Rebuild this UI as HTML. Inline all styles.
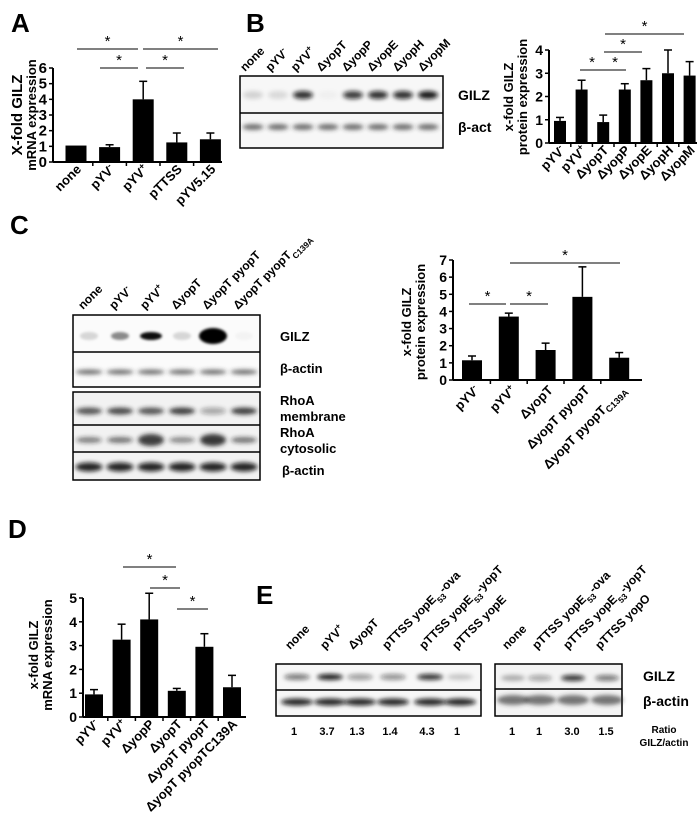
<!DOCTYPE html>
<html><head><meta charset="utf-8"><style>
body{margin:0;background:#fff}
svg{display:block;font-family:"Liberation Sans",sans-serif;font-weight:bold}
</style></head><body>
<svg id="fig" width="699" height="814" viewBox="0 0 699 814" xmlns="http://www.w3.org/2000/svg">
<defs>
<filter id="blur" x="-50%" y="-100%" width="200%" height="300%"><feGaussianBlur stdDeviation="2"/></filter>
<filter id="blur2" x="-50%" y="-100%" width="200%" height="300%"><feGaussianBlur stdDeviation="1.2"/></filter>
</defs>
<g id="labels" font-size="26">
<text x="11" y="32">A</text>
<text x="246" y="32">B</text>
<text x="10" y="234">C</text>
<text x="8" y="538">D</text>
<text x="256" y="604">E</text>
</g>
<g id="charts"></g>
<g id="blots"></g>
</svg>
<script>
// ---------- Chart data ----------
const aCategories = ["none","pYV^-","pYV^+","pTTSS","pYV5.15"];
const aValues = [1.05,0.95,4.0,1.25,1.45];
const aErrors = [0,0.15,1.15,0.6,0.4];
const aTicks = [0,1,2,3,4,5,6];

const bCategories = ["pYV^-","pYV^+","\u0394yopT","\u0394yopP","\u0394yopE","\u0394yopH","\u0394yopM"];
const bValues = [0.95,2.3,0.9,2.3,2.7,3.0,2.9];
const bErrors = [0.15,0.4,0.3,0.25,0.5,1.0,0.6];
const bTicks = [0,1,2,3,4];

const cCategories = ["pYV^-","pYV^+","\u0394yopT","\u0394yopT pyopT","\u0394yopT pyopT_C139A"];
const cValues = [1.15,3.7,1.75,4.85,1.3];
const cErrors = [0.25,0.2,0.4,1.75,0.3];
const cTicks = [0,1,2,3,4,5,6,7];

const dCategories = ["pYV^-","pYV^+","\u0394yopP","\u0394yopT","\u0394yopT pyopT","\u0394yopT pyopTC139A"];
const dValues = [0.95,3.25,4.1,1.1,2.95,1.25];
const dErrors = [0.2,0.65,1.1,0.1,0.55,0.5];
const dTicks = [0,1,2,3,4,5];

const NS="http://www.w3.org/2000/svg";
const charts=document.getElementById('charts');
function mk(tag,attrs,parent){const e=document.createElementNS(NS,tag);for(const k in attrs)e.setAttribute(k,attrs[k]);(parent||charts).appendChild(e);return e;}

function fillLabel(t,str,fs){
  // ^x = superscript suffix, _x = subscript suffix
  let m=str.match(/^(.*?)([\^_])(.*)$/);
  if(!m){t.appendChild(document.createTextNode(str));return;}
  t.appendChild(document.createTextNode(m[1]));
  const s=document.createElementNS(NS,'tspan');
  s.setAttribute('font-size',fs*0.7);
  s.setAttribute('dy',m[2]==='^'?-5:3);
  s.textContent=m[3];
  t.appendChild(s);
}

function drawChart(cfg){
  const g=mk('g',{});
  
  
  const yMax=cfg.ticks[cfg.ticks.length-1];
  const y=v=>cfg.y0-(cfg.y0-cfg.yTop)*v/yMax;
  const x=i=>cfg.x1+cfg.step*i;
  const ya=mk('line',{x1:cfg.ax,y1:cfg.yTop,x2:cfg.ax,y2:cfg.y0,stroke:'#000','stroke-width':2},g);
  
  
  const xa=mk('line',{x1:cfg.ax,y1:cfg.y0,x2:cfg.axEnd,y2:cfg.y0,stroke:'#000','stroke-width':2},g);
  
  
  cfg.ticks.forEach(t=>{
    mk('line',{x1:cfg.ax-4,y1:y(t),x2:cfg.ax,y2:y(t),stroke:'#000','stroke-width':1.5},g);
    const tl=mk('text',{x:cfg.ax-6,y:y(t)+5,'text-anchor':'end','font-size':cfg.tickFs||14},g);
    tl.textContent=t;
    
    
  });
  cfg.cats.forEach((c,i)=>{
    const cx=x(i);
    if(i>0) mk('line',{x1:cx-cfg.step/2,y1:cfg.y0,x2:cx-cfg.step/2,y2:cfg.y0+4,stroke:'#000','stroke-width':1.5},g);
    const top=y(cfg.vals[i]+cfg.errs[i]);
    if(cfg.errs[i]>0){
      mk('line',{x1:cx,y1:top,x2:cx,y2:y(cfg.vals[i]),stroke:'#000','stroke-width':1.5},g);
      mk('line',{x1:cx-4,y1:top,x2:cx+4,y2:top,stroke:'#000','stroke-width':1.5},g);
    }
    const b=mk('rect',{x:cx-cfg.bw/2,y:y(cfg.vals[i]),width:cfg.bw,height:cfg.y0-y(cfg.vals[i]),fill:'#000'},g);
    
    
    const lx=cx+cfg.lblDx, ly=cfg.lblY;
    const fs=cfg.lblFs||13;
    const t=mk('text',{x:lx,y:ly,'text-anchor':'end','font-size':fs,transform:`rotate(-45 ${lx} ${ly})`},g);
    
    
    fillLabel(t,c,fs);
  });
  cfg.sig.forEach(s=>{
    mk('line',{x1:s[0],y1:s[2],x2:s[1],y2:s[2],stroke:'#000','stroke-width':1},g);
    const st=mk('text',{x:(s[0]+s[1])/2,y:s[2]-3,'text-anchor':'middle','font-size':15,'font-weight':'normal'},g);
    st.textContent='*';
    
    
  });
  cfg.titles.forEach(tt=>{
    const t=mk('text',{x:tt[0],y:tt[1],'text-anchor':'middle','font-size':tt[3]||13,transform:`rotate(-90 ${tt[0]} ${tt[1]})`},g);
    t.textContent=tt[2];
    
    
  });
}

drawChart({name:'chart-a',cats:aCategories,vals:aValues,errs:aErrors,ticks:aTicks,
  ax:53,axEnd:222,y0:162,yTop:68,x1:76,step:33.6,bw:21,lblDx:6,lblY:170,tickFs:15,
  sig:[[77,138,49],[143,218,49],[100,138,68],[146,184,68]],
  titles:[[22,115,'X-fold GILZ',15],[36,115,'mRNA expression',13]]});
drawChart({name:'chart-b',cats:bCategories,vals:bValues,errs:bErrors,ticks:bTicks,
  ax:549,axEnd:697,y0:143,yTop:50,x1:560,step:21.6,bw:12,lblDx:6,lblY:151,tickFs:14,
  sig:[[580,604,70],[604,626,70],[604,642,52],[605,684,34]],
  titles:[[513,97,'x-fold GILZ',13],[527,97,'protein expression',13]]});
drawChart({name:'chart-c',cats:cCategories,vals:cValues,errs:cErrors,ticks:cTicks,
  ax:453,axEnd:642,y0:380,yTop:260,x1:472,step:36.8,bw:20,lblDx:8,lblY:391,tickFs:14,
  sig:[[469,506,304],[510,548,304],[510,620,263]],
  titles:[[411,322,'x-fold GILZ',13],[425,322,'protein expression',13]]});
drawChart({name:'chart-d',cats:dCategories,vals:dValues,errs:dErrors,ticks:dTicks,
  ax:83,axEnd:246,y0:717,yTop:598,x1:94,step:27.6,bw:18,lblDx:6,lblY:725,tickFs:14,
  sig:[[123,176,567],[150,180,588],[177,208,609]],
  titles:[[38,655,'x-fold GILZ',13],[52,655,'mRNA expression',13]]});

// ---------- Blots ----------
const blots=document.getElementById('blots');
function bk(tag,attrs,parent){const e=document.createElementNS(NS,tag);for(const k in attrs)e.setAttribute(k,attrs[k]);(parent||blots).appendChild(e);return e;}
function txt(x,y,s,fs,name,rot,anchor){
  const t=bk('text',{x:x,y:y,'font-size':fs,'text-anchor':anchor||'start'});
  if(rot) t.setAttribute('transform',`rotate(-45 ${x} ${y})`);
  
  
  return t;
}
function laneLabel(x,y,str,fs){
  const t=txt(x,y,'',fs,'lane-label',true);
  const parts=str.split('|');
  parts.forEach((p,i)=>{
    if(i%2===0){
      if(p){const r=bk('tspan',{},t);r.textContent=p;}
    } else {
      const sup=(p==='+'||p==='-');
      const s=bk('tspan',{'font-size':fs*0.7,'baseline-shift':sup?'super':'sub'},t);
      s.textContent=p;
    }
  });
}
function band(cx,cy,w,h,dark,fill){
  bk('ellipse',{cx:cx,cy:cy,rx:w/2,ry:h/2,fill:fill||'#111','fill-opacity':dark,filter:'url(#blur)'});
}
function box(x,y,w,h,bg){
  bk('rect',{x:x,y:y,width:w,height:h,fill:bg||'#fafafa',stroke:'#000','stroke-width':1.5});
}

// Blot B
box(240,76,203,72,'#f7f7f7');
bk('line',{x1:240,y1:113,x2:443,y2:113,stroke:'#000','stroke-width':1.5});
const bLanes=["none","pYV|-|","pYV|+|","\u0394yopT","\u0394yopP","\u0394yopE","\u0394yopH","\u0394yopM"];
const bG=[0.15,0.12,0.85,0.03,0.8,0.85,0.85,0.95];
bLanes.forEach((l,i)=>{
  const cx=253+25*i;
  band(cx,95,20,8,bG[i]);
  band(cx,127,21,6,0.7,'#333');
  laneLabel(245+25.4*i,72,l,12);
});
txt(458,100,'',14,'blot-label-gilz').textContent='GILZ';
txt(458,132,'',14,'blot-label-actin').textContent='\u03b2-act';

// Blot C
box(73,315,187,72,'#fbfbfb');
bk('line',{x1:73,y1:352,x2:260,y2:352,stroke:'#000','stroke-width':1.5});
box(73,392,187,88,'#f2f2f2');
bk('line',{x1:73,y1:425,x2:260,y2:425,stroke:'#000','stroke-width':1.5});
bk('line',{x1:73,y1:452,x2:260,y2:452,stroke:'#000','stroke-width':1.5});
const cLanes=["none","pYV|-|","pYV|+|","\u0394yopT","\u0394yopT pyopT","\u0394yopT pyopT|C139A|"];
const cG=[0.15,0.45,0.95,0.15,1,0.03];
const cGw=[18,18,22,18,28,18];
const cM=[0.75,0.8,0.75,0.85,0.35,0.85];
const cC=[0.55,0.6,0.85,0.5,0.9,0.6];
cLanes.forEach((l,i)=>{
  const cx=89+31*i;
  bk('ellipse',{cx:cx,cy:336,rx:cGw[i]/2,ry:i===4?8:4,fill:'#000','fill-opacity':cG[i],filter:'url(#blur2)'});
  band(cx,372,27,5,0.7,'#333');
  band(cx,411,26,7,cM[i],'#222');
  band(cx,440,26,i===2||i===4?12:6,cC[i],'#222');
  band(cx,467,27,9,0.9,'#111');
  laneLabel(83+31*i,310,l,12);
});
[['GILZ',280,341],['\u03b2-actin',280,373],['RhoA',280,405],['membrane',280,421],['RhoA',280,437],['cytosolic',280,453],['\u03b2-actin',282,475]].forEach(a=>{
  txt(a[1],a[2],'',13,'blot-label').textContent=a[0];
});

// Blot E
box(276,664,205,52,'#f7f7f7');
bk('line',{x1:276,y1:690,x2:481,y2:690,stroke:'#000','stroke-width':1.5});
box(495,664,127,52,'#f4f4f4');
bk('line',{x1:495,y1:689,x2:622,y2:689,stroke:'#000','stroke-width':1.5});
const eLanesL=["none","pYV|+|","\u0394yopT","pTTSS yopE|53|-ova","pTTSS yopE|53|-yopT","pTTSS yopE"];
const eLanesR=["none","pTTSS yopE|53|-ova","pTTSS yopE|53|-yopT","pTTSS yopO"];
const eRatioL=["1","3.7","1.3","1.4","4.3","1"];
const eRatioR=["1","1","3.0","1.5"];
const eGL=[0.55,0.95,0.4,0.45,0.85,0.2];
const eGR=[0.3,0.35,0.85,0.55];
const eXL=[297,330,360,393,430,460];
const eXR=[513,540,573,607];
const eSL=[290,325,353,387,424,457];
const eSR=[507,537,568,600];
eLanesL.forEach((l,i)=>{
  band(eXL[i],677,26,6,eGL[i]);
  band(eXL[i],702,32,7,0.9,'#111');
  laneLabel(eSL[i],650,l,12);
  txt(eXL[i]-3,735,'',11,'ratio-value',false,'middle').textContent=eRatioL[i];
});
eLanesR.forEach((l,i)=>{
  band(eXR[i],678,24,6,eGR[i]);
  band(eXR[i],700,32,10,0.65,'#333');
  laneLabel(eSR[i],650,l,12);
  txt(eXR[i]-1,735,'',11,'ratio-value',false,'middle').textContent=eRatioR[i];
});
txt(643,681,'',14,'blot-label-gilz').textContent='GILZ';
txt(643,706,'',14,'blot-label-actin').textContent='\u03b2-actin';
txt(664,733,'',10,'ratio-label',false,'middle').textContent='Ratio';
txt(664,746,'',10,'ratio-label',false,'middle').textContent='GILZ/actin';
</script>
</body></html>
